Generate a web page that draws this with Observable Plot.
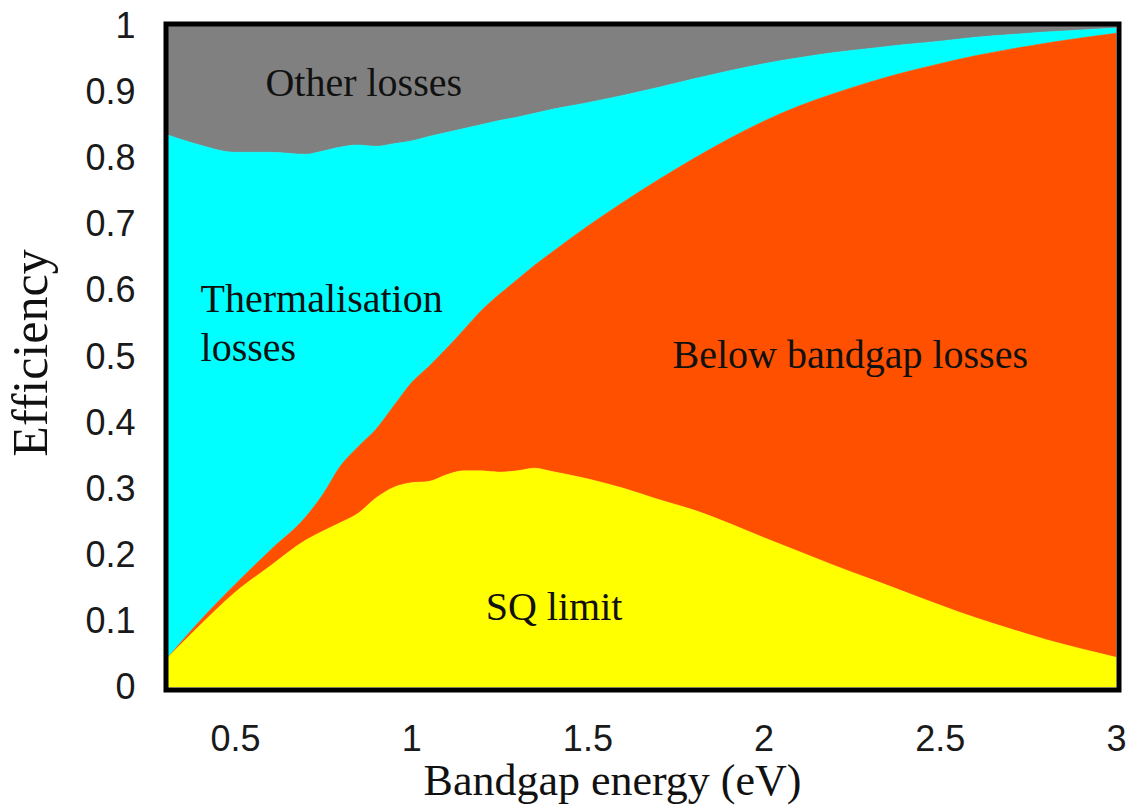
<!DOCTYPE html>
<html><head><meta charset="utf-8">
<script src="https://cdn.jsdelivr.net/npm/d3@7"></script>
<script src="https://cdn.jsdelivr.net/npm/@observablehq/plot@0.6"></script>
<style>body{margin:0;background:#fff}</style>
</head><body><div id="chart"></div>
<script>
// Bandgap energy (eV)
const energy = [0.31,0.4,0.5,0.6,0.7,0.75,0.8,0.85,0.9,0.95,1.0,1.05,1.1,1.15,1.2,1.25,1.3,1.35,1.4,1.5,1.6,1.7,1.8,1.9,2.0,2.1,2.2,2.3,2.4,2.5,2.6,2.7,2.8,2.9,3.0];
// Top of the SQ limit region (yellow)
const sqLimit = [0.045,0.093,0.143,0.183,0.222,0.236,0.249,0.263,0.286,0.302,0.309,0.311,0.321,0.327,0.327,0.325,0.327,0.331,0.326,0.315,0.301,0.284,0.268,0.248,0.226,0.205,0.184,0.164,0.144,0.124,0.105,0.088,0.072,0.058,0.045];
// Top of the below-bandgap-losses region (orange)
const belowBandgapTop = [0.045,0.10,0.155,0.207,0.257,0.292,0.335,0.364,0.39,0.425,0.46,0.485,0.512,0.541,0.57,0.594,0.616,0.638,0.658,0.697,0.733,0.767,0.799,0.829,0.856,0.879,0.898,0.915,0.93,0.943,0.955,0.965,0.974,0.982,0.989];
// Top of the thermalisation-losses region (cyan)
const thermalisationTop = [0.835,0.82,0.809,0.809,0.806,0.811,0.817,0.82,0.818,0.822,0.826,0.833,0.839,0.845,0.851,0.857,0.862,0.868,0.874,0.884,0.895,0.907,0.92,0.932,0.943,0.952,0.96,0.966,0.972,0.977,0.983,0.987,0.991,0.994,0.997];

const xTicks = [0.5,1,1.5,2,2.5,3];
const yTicks = [0,0.1,0.2,0.3,0.4,0.5,0.6,0.7,0.8,0.9,1];

const regionLabels = ["Other losses","Thermalisation","losses","Below bandgap losses","SQ limit"];
const labelEnergy = [0.585,0.401,0.401,1.74,1.21];
const labelEfficiency = [0.914,0.588,0.513,0.502,0.121];

const rows = energy.map((e,i)=>({e, sq: sqLimit[i], bb: belowBandgapTop[i], th: thermalisationTop[i]}));
const labels = regionLabels.map((t,i)=>({t, x: labelEnergy[i], y: labelEfficiency[i]}));

const serif = "'Liberation Serif', 'Times New Roman', serif";
const sans = "'Liberation Sans', Arial, sans-serif";
const curve = "monotone-x";

const chart = Plot.plot({
  width: 1134, height: 805,
  marginLeft: 168, marginRight: 18, marginTop: 26, marginBottom: 118,
  x: {domain: [0.31, 3]},
  y: {domain: [0, 1]},
  marks: [
    Plot.areaY(rows, {x: "e", y1: "th", y2: d => 1, curve, fill: "#808080", stroke: "#808080", strokeWidth: 0.5}),
    Plot.areaY(rows, {x: "e", y1: "bb", y2: "th", curve, fill: "#00ffff", stroke: "#00ffff", strokeWidth: 0.5}),
    Plot.areaY(rows, {x: "e", y1: "sq", y2: "bb", curve, fill: "#ff5000", stroke: "#ff5000", strokeWidth: 0.5}),
    Plot.areaY(rows, {x: "e", y1: d => 0, y2: "sq", curve, fill: "#ffff00", stroke: "#ffff00", strokeWidth: 0.5}),
    Plot.frame({stroke: "#000", strokeWidth: 5, inset: -2.5}),
    Plot.axisX({ticks: xTicks, tickFormat: d => String(d), tickSize: 0, tickPadding: 38, fontSize: 36, fontFamily: sans, label: null, fill: "#1a1a1a"}),
    Plot.axisY({ticks: yTicks, tickFormat: d => String(d), tickSize: 0, tickPadding: 33, fontSize: 36, fontFamily: sans, label: null, fill: "#1a1a1a"}),
    Plot.text(labels, {x: "x", y: "y", text: "t", textAnchor: "start", lineAnchor: "middle", fontSize: 40, fontFamily: serif, fill: "#111"}),
    Plot.text(["Bandgap energy (eV)"], {frameAnchor: "bottom", dy: 93, dx: -30, textAnchor: "middle", lineAnchor: "middle", fontSize: 44, fontFamily: serif, fill: "#111"}),
    Plot.text(["Efficiency"], {frameAnchor: "left", dx: -138, dy: -4, rotate: -90, textAnchor: "middle", lineAnchor: "middle", fontSize: 50, fontFamily: serif, fill: "#111"})
  ]
});
document.getElementById("chart").appendChild(chart);
</script>
</body></html>
